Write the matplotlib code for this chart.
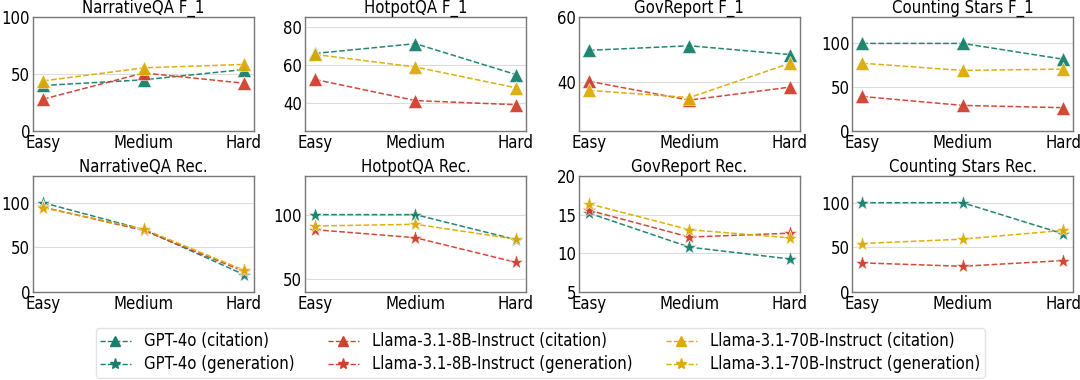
import matplotlib
matplotlib.use("Agg")
import matplotlib.pyplot as plt
from matplotlib.lines import Line2D

plt.rcParams['font.family'] = ['DejaVu Sans']
plt.rcParams['font.stretch'] = 'condensed'

levels = ["Easy", "Medium", "Hard"]
models = ["GPT-4o", "Llama-3.1-8B-Instruct", "Llama-3.1-70B-Instruct"]
colors = ["#17806a", "#cf402e", "#dcab05"]

titles_f1 = ["NarrativeQA F_1", "HotpotQA F_1", "GovReport F_1", "Counting Stars F_1"]
titles_rec = ["NarrativeQA Rec.", "HotpotQA Rec.", "GovReport Rec.", "Counting Stars Rec."]

# F_1 (citation) values: [GPT-4o, Llama-8B, Llama-70B]
narrativeqa_f1 = [[40, 45, 54], [28, 51, 42], [44, 55.5, 58.5]]
hotpotqa_f1 = [[66.2, 71.4, 55], [52.4, 41.2, 39], [65.7, 59, 48]]
govreport_f1 = [[49.8, 51.2, 48.5], [40.3, 34.5, 38.5], [37.5, 35.3, 45.8]]
countingstars_f1 = [[100, 100, 82], [39.5, 29.3, 26.7], [77.4, 69.2, 70.7]]

# Recall (generation) values
narrativeqa_rec = [[100, 70, 19.5], [95, 69, 23], [94.4, 70.5, 24.5]]
hotpotqa_rec = [[100, 100, 80.6], [88.3, 82.1, 63], [91.2, 92.5, 81]]
govreport_rec = [[15.2, 10.8, 9.27], [15.56, 12.1, 12.6], [16.4, 13.05, 12.0]]
countingstars_rec = [[100, 100, 65.2], [32.6, 28.8, 35.2], [54.3, 59.2, 69]]

f1_data = [narrativeqa_f1, hotpotqa_f1, govreport_f1, countingstars_f1]
rec_data = [narrativeqa_rec, hotpotqa_rec, govreport_rec, countingstars_rec]

f1_ylims = [(0, 100), (25, 85.5), (25, 60), (0, 130)]
f1_ticks = [[0, 50, 100], [40, 60, 80], [40, 60], [0, 50, 100]]
rec_ylims = [(0, 130), (40, 130), (5, 20), (0, 130)]
rec_ticks = [[0, 50, 100], [50, 100], [5, 10, 15, 20], [0, 50, 100]]

fig = plt.figure(figsize=(10.8, 3.8), dpi=100)
lefts = [0.0306, 0.2824, 0.536, 0.789]
w = 0.2046
rows = [(0.655, 0.300), (0.2316, 0.3054)]

FS = 12

def style_ax(ax, title, ylim, ticks):
    ax.set_title(title, fontsize=FS, pad=0.8)
    ax.set_ylim(*ylim)
    ax.set_yticks(ticks)
    ax.set_xticks(range(len(levels)))
    ax.set_xticklabels(levels)
    ax.set_xlim(-0.1, 2.1)
    ax.tick_params(axis='both', labelsize=FS, length=0, pad=2)
    ax.grid(axis='y', color='#dcdcdc', linewidth=0.8)
    ax.set_axisbelow(True)
    for s in ax.spines.values():
        s.set_color('#777777')
        s.set_linewidth(1.0)

x = list(range(len(levels)))
for r, (data, titles, ylims, ticks, marker, ms) in enumerate([
        (f1_data, titles_f1, f1_ylims, f1_ticks, '^', 9.5),
        (rec_data, titles_rec, rec_ylims, rec_ticks, '*', 11)]):
    b, h = rows[r]
    for c in range(4):
        ax = fig.add_axes([lefts[c], b, w, h])
        for m in range(3):
            ax.plot(x, data[c][m], linestyle='--', color=colors[m], linewidth=1.1,
                    marker=marker, markersize=ms, markeredgecolor='white',
                    markeredgewidth=0.4, alpha=0.95)
        style_ax(ax, titles[c], ylims[c], ticks[c])

handles = []
for m in range(3):
    handles.append(Line2D([], [], linestyle='--', color=colors[m], marker='^',
                          markersize=7, linewidth=1.0, label=f"{models[m]} (citation)"))
    handles.append(Line2D([], [], linestyle='--', color=colors[m], marker='*',
                          markersize=8, linewidth=1.0, label=f"{models[m]} (generation)"))

fig.legend(handles=handles, loc='lower center', bbox_to_anchor=(0.5, 0.002),
           ncol=3, fontsize=12, frameon=True, edgecolor='#dddddd',
           handlelength=1.85, columnspacing=2.0, labelspacing=0.3,
           borderpad=0.25, handletextpad=0.8, borderaxespad=0.1)

fig.savefig("out.png", dpi=100)
